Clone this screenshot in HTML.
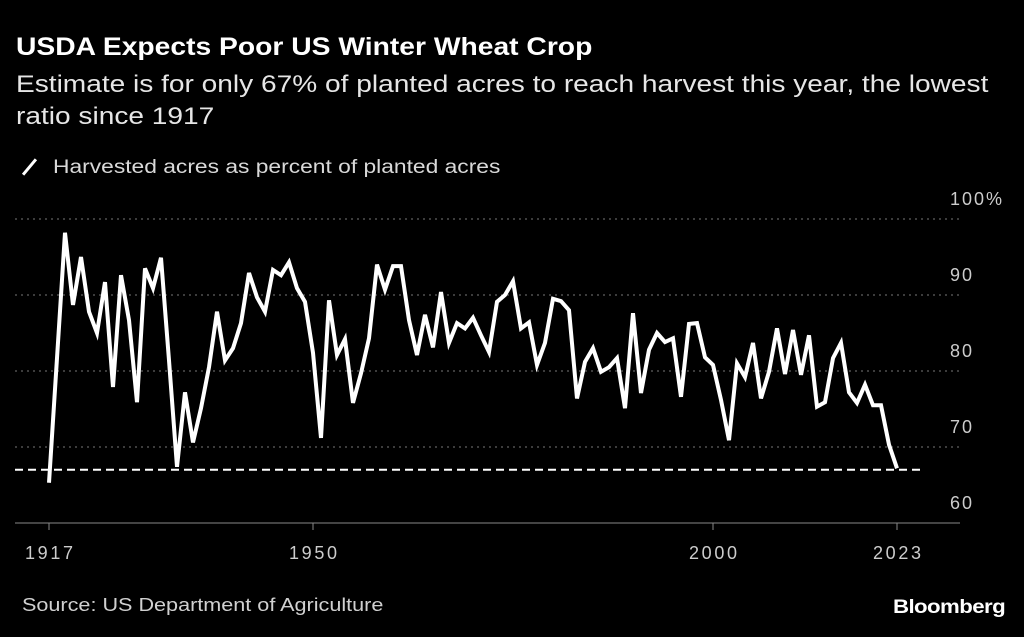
<!DOCTYPE html>
<html><head><meta charset="utf-8"><style>
body{margin:0;background:#000;width:1024px;height:637px;overflow:hidden;font-family:"Liberation Sans",sans-serif;color:#fff}
.t{position:absolute;white-space:nowrap;transform-origin:0 0}
</style></head><body>
<div class="t" style="left:16px;top:33px;font-size:25px;font-weight:bold;transform:scaleX(1.13)">USDA Expects Poor US Winter Wheat Crop</div>
<div class="t" style="left:16px;top:69px;font-size:24px;line-height:32px;color:#e6e6e6;transform:scaleX(1.17)">Estimate is for only 67% of planted acres to reach harvest this year, the lowest<br>ratio since 1917</div>
<div style="position:absolute;left:28px;top:157px;width:3px;height:20px;background:#fff;transform:rotate(40deg)"></div>
<div class="t" style="left:53px;top:157px;font-size:19px;color:#d9d9d9;transform:scaleX(1.2)">Harvested acres as percent of planted acres</div>
<svg id="chart" width="1024" height="637" style="position:absolute;left:0;top:0"></svg>
<div class="t" style="left:22px;top:595px;font-size:18px;color:#d0d0d0;transform:scaleX(1.2)">Source: US Department of Agriculture</div>
<div class="t" style="left:893px;top:597px;font-size:19px;font-weight:bold;letter-spacing:-0.5px;transform:scaleX(1.17)">Bloomberg</div>
<script>
const startYear=1917;
const values=[65.3,81.7,98.2,88.7,95,87.8,85,91.7,77.9,92.6,86.7,75.9,93.5,90.9,94.9,81.4,67.4,77.2,70.6,75.1,80.5,87.8,81.4,83,86.3,92.9,89.7,87.8,93.3,92.6,94.3,90.9,89.1,82.4,71.2,89.3,82.1,84.2,75.8,79.7,84.3,94,90.7,93.8,93.8,86.7,82.1,87.4,83.1,90.4,83.7,86.3,85.6,87,84.7,82.5,89.1,90,91.8,85.6,86.4,80.8,83.7,89.5,89.2,88,76.4,81.2,83,79.9,80.5,81.7,75.1,87.6,77.1,82.8,85,83.8,84.3,76.6,86.2,86.3,81.8,80.8,76.2,70.9,81,79.2,83.7,76.4,79.9,85.6,79.6,85.4,79.5,84.7,75.3,75.9,81.7,83.7,77.2,75.8,78.2,75.5,75.5,70.3,67.2];
const yTicks=[60,70,80,90,100];
const xTicks=[1917,1950,2000,2023];
const refValue=67;
const svg=document.getElementById('chart');const NS='http://www.w3.org/2000/svg';
const X=y=>49+(y-1917)*8.0;const Y=v=>219+(100-v)*7.6;
function mk(t,a){const e=document.createElementNS(NS,t);for(const k in a)e.setAttribute(k,a[k]);svg.appendChild(e);return e;}
yTicks.forEach(v=>{
 const l=mk('line',{x1:15,x2:960,y1:Y(v),y2:Y(v),stroke:v===60?'#888':'#777','stroke-width':1,'stroke-dasharray':v===60?'none':'2,4'});
 
 
 const t=mk('text',{x:950,y:Y(v)-14,fill:'#ccc','font-size':18,'textLength':v===100?52:22,'font-family':'Liberation Sans, sans-serif'});
 t.textContent=v===100?'100%':String(v);
 
 
});
xTicks.forEach(yr=>{
 const l=mk('line',{x1:X(yr),x2:X(yr),y1:523,y2:530,stroke:'#888'});
 
 
 const t=mk('text',{x:X(yr)-24,y:559,fill:'#ccc','font-size':18,'textLength':48,'font-family':'Liberation Sans, sans-serif'});
 t.textContent=yr;
 
 
});
const ref=mk('line',{x1:15,x2:925,y1:Y(refValue),y2:Y(refValue),stroke:'#fff','stroke-width':2,'stroke-dasharray':'8,5'});


const pts=values.map((v,i)=>X(startYear+i).toFixed(1)+','+Y(v).toFixed(1)).join(' ');
const line=mk('polyline',{points:pts,fill:'none',stroke:'#fff','stroke-width':4,'stroke-linejoin':'miter'});


</script>
</body></html>
